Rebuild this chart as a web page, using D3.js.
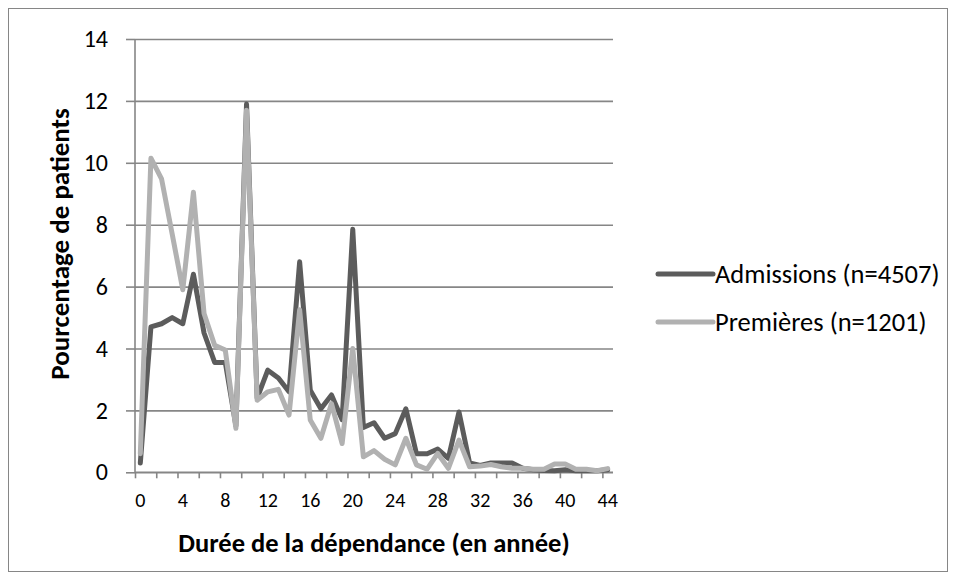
<!DOCTYPE html>
<html>
<head>
<meta charset="utf-8">
<script src="https://cdn.jsdelivr.net/npm/d3@7"></script>
<style>
  body { margin: 0; background: #fff; }
  svg { display: block; font-family: Carlito, Calibri, Lato, sans-serif; }
</style>
</head>
<body>
<div id="chart"></div>
<script>
// Données ///////////////////////////////////////////////////////////////////////
const annees = d3.range(0, 45);
const admissions = [0.3, 4.7, 4.8, 5.0, 4.8, 6.4, 4.5, 3.55, 3.55, 1.5, 11.9, 2.4, 3.3, 3.05, 2.6, 6.8, 2.65, 2.05, 2.5, 1.7,
  7.85, 1.45, 1.6, 1.1, 1.25, 2.05, 0.6, 0.6, 0.75, 0.45, 1.95, 0.3, 0.22, 0.3, 0.3, 0.3, 0.13, 0.08, 0.06, 0.05,
  0.08, 0.05, 0.05, 0.05, 0.08];
const premieres = [0.6, 10.15, 9.48, 7.7, 5.9, 9.05, 5.13, 4.1, 3.95, 1.42, 11.7, 2.33, 2.6, 2.68, 1.85, 5.25, 1.69, 1.1, 2.22, 0.93,
  4.0, 0.5, 0.7, 0.42, 0.24, 1.1, 0.24, 0.1, 0.61, 0.13, 1.04, 0.18, 0.2, 0.25, 0.18, 0.13, 0.13, 0.1, 0.1, 0.27,
  0.27, 0.1, 0.1, 0.05, 0.12];
const series = [
  { nom: 'Admissions (n=4507)', valeurs: admissions, couleur: '#5c5c5c' },
  { nom: 'Premières (n=1201)', valeurs: premieres, couleur: '#b1b1b1' }
];
const yTicks = d3.range(0, 15, 2);
const xTicks = d3.range(0, 45, 2);   // graduations
const xLabels = d3.range(0, 45, 4);  // étiquettes

const width = 956, height = 580;
const plot = { left: 135, right: 613, top: 39, bottom: 472.3 };
const gris = '#868686';
const police = 'Carlito, Calibri, Lato, sans-serif';

const svg = d3.select('#chart').append('svg')
  .attr('width', width)
  .attr('height', height);

svg.append('rect')
  .attr('x', 8.5).attr('y', 8.5)
  .attr('width', 939).attr('height', 563)
  .attr('fill', '#fff')
  .attr('stroke', gris).attr('stroke-width', 1);

// Échelles //////////////////////////////////////////////////////////////////////
const x = d3.scaleBand().domain(annees).range([plot.left, plot.right]);
const xBords = d3.scaleLinear().domain([0, annees.length]).range([plot.left, plot.right]);
const y = d3.scaleLinear().domain([0, 14]).range([plot.bottom, plot.top]);

// Grille
svg.append('g')
  .attr('transform', `translate(${plot.left},0)`)
  .call(d3.axisLeft(y).tickValues(yTicks).tickSize(-(plot.right - plot.left)).tickFormat(''))
  .call(g => g.select('.domain').remove())
  .call(g => g.selectAll('line').attr('stroke', gris).attr('stroke-width', 1.6));

// Axe Y
const axeY = svg.append('g')
  .attr('transform', `translate(${plot.left},0)`)
  .call(d3.axisLeft(y).tickValues(yTicks).tickSize(9).tickPadding(18))
  .attr('font-family', police).attr('font-size', 24);
axeY.select('.domain').attr('stroke', gris).attr('stroke-width', 1.6).attr('d', `M0,${plot.top}V${plot.bottom}`);
axeY.selectAll('line').attr('stroke', gris).attr('stroke-width', 1.6);
axeY.selectAll('text').attr('fill', '#000');

// Axe X : graduations entre les catégories, étiquettes au centre
const axeX = svg.append('g')
  .attr('transform', `translate(0,${plot.bottom})`)
  .call(d3.axisBottom(xBords).tickValues(xTicks).tickSize(6).tickFormat(''));
axeX.select('.domain').attr('stroke', gris).attr('stroke-width', 1.6).attr('d', `M${plot.left},0H${plot.right}`);
axeX.selectAll('line').attr('stroke', gris).attr('stroke-width', 1.6);

const etiqX = svg.append('g')
  .attr('transform', `translate(0,${plot.bottom})`)
  .call(d3.axisBottom(x).tickValues(xLabels).tickSize(0).tickPadding(20.5))
  .attr('font-family', police).attr('font-size', 20);
etiqX.select('.domain').remove();
etiqX.selectAll('text').attr('fill', '#000');

// Lignes ////////////////////////////////////////////////////////////////////////
const ligne = d3.line()
  .x((d, i) => x(annees[i]) + x.bandwidth() / 2)
  .y(d => y(d));

svg.append('g')
  .selectAll('path')
  .data(series)
  .join('path')
  .attr('d', d => ligne(d.valeurs))
  .attr('fill', 'none')
  .attr('stroke', d => d.couleur)
  .attr('stroke-width', 5)
  .attr('stroke-linejoin', 'round')
  .attr('stroke-linecap', 'round');

// Titres des axes
svg.append('text')
  .attr('x', (plot.left + plot.right) / 2).attr('y', 552)
  .attr('text-anchor', 'middle')
  .attr('font-size', 26.5).attr('font-weight', 'bold')
  .text('Durée de la dépendance (en année)');

svg.append('text')
  .attr('transform', 'translate(69,244) rotate(-90)')
  .attr('text-anchor', 'middle')
  .attr('font-size', 27).attr('font-weight', 'bold')
  .text('Pourcentage de patients');

// Légende
const legende = svg.append('g')
  .selectAll('g')
  .data(series)
  .join('g')
  .attr('transform', (d, i) => `translate(658,${274 + i * 48})`);
legende.append('line')
  .attr('x1', 0).attr('x2', 55)
  .attr('stroke', d => d.couleur).attr('stroke-width', 5)
  .attr('stroke-linecap', 'round');
legende.append('text')
  .attr('x', 57).attr('dy', '0.35em')
  .attr('font-size', 26.5)
  .text(d => d.nom);
</script>
</body>
</html>
